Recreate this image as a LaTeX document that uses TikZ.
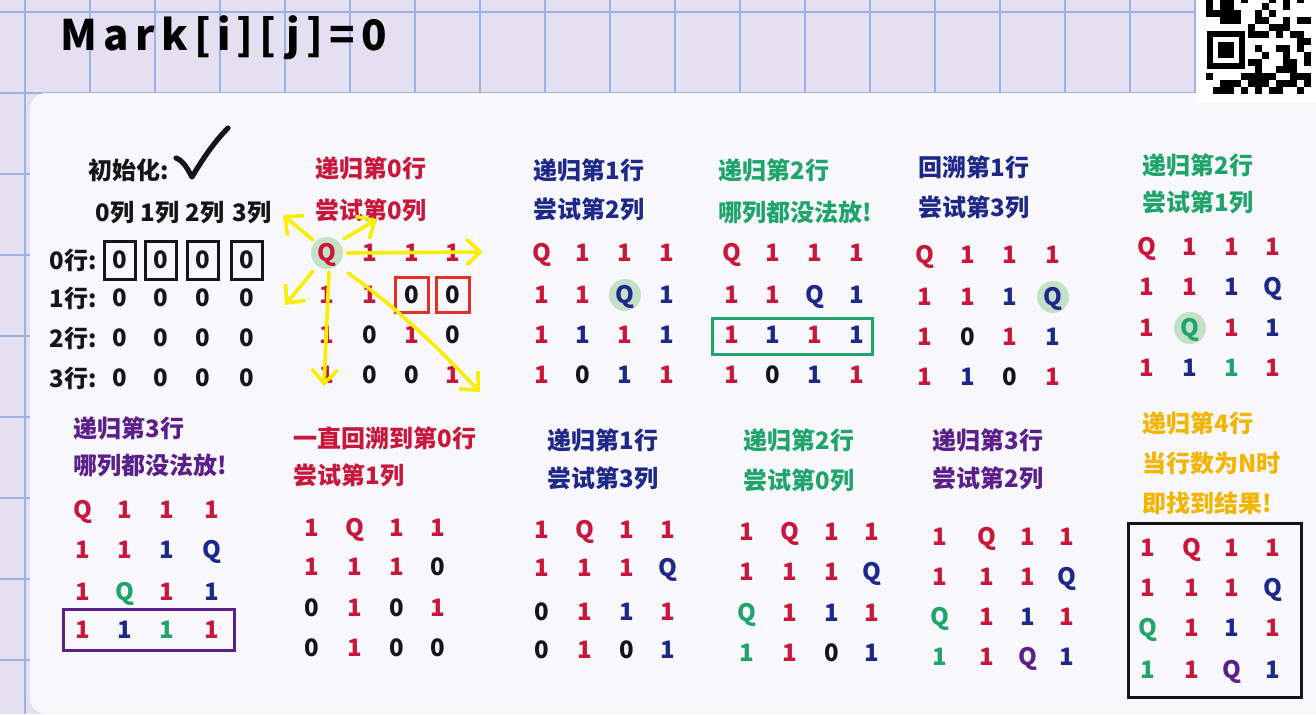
\documentclass[tikz,border=0pt]{standalone}
\usepackage{fontspec}
\setmainfont{Noto Sans CJK SC}
\usetikzlibrary{arrows.meta,backgrounds,fit}
\definecolor{cR}{HTML}{C8173A}
\definecolor{cB}{HTML}{1E2888}
\definecolor{cG}{HTML}{1FA56B}
\definecolor{cP}{HTML}{5B1F8A}
\definecolor{cK}{HTML}{151515}
\definecolor{cY}{HTML}{F2B600}
\definecolor{cBox}{HTML}{E0302A}
\definecolor{paper}{HTML}{E4E0F2}
\definecolor{gridc}{HTML}{9DB2E3}
\definecolor{panelc}{HTML}{F7F7FC}
\definecolor{hl}{HTML}{C6DFC8}
\definecolor{arrowy}{HTML}{F7EE00}
\tikzset{
  cell/.style={font=\fontsize{12}{14}\selectfont\bfseries, inner sep=0pt, text height=8.6pt, text depth=0pt, anchor=center},
  ttl/.style={font=\fontsize{12}{14}\selectfont\bfseries, inner sep=0pt, anchor=west},
  lbl/.style={font=\fontsize{12}{14}\selectfont\bfseries, inner sep=0pt, anchor=center, text=cK},
  kbox/.style={draw=cK, line width=1.5pt, inner xsep=3.8pt, inner ysep=5pt},
  rbox/.style={draw=cBox, line width=1.5pt, inner xsep=4.6pt, inner ysep=4.2pt},
  rowbox/.style={line width=1.5pt},
  yarrow/.style={draw=arrowy, line width=1.8pt, line cap=round, -{Straight Barb[length=7pt,width=13pt,line width=1.8pt]}},
  hlq/.style={fill=hl, circle, minimum size=16pt, inner sep=0pt}
}
\newcommand\panelcells[4]{%
  \foreach \c/\r/\cc/\tx in {#4}{%
    \pgfmathsetmacro\xx{{#2}[\c]}%
    \pgfmathsetmacro\yy{{#3}[\r]}%
    \node[cell,text=\cc] (#1-\r-\c) at (\xx,\yy) {\tx};
  }}
\begin{document}
\begin{tikzpicture}[x=0.5pt,y=-0.5pt]
\useasboundingbox (0,0) rectangle (1316,714);
\begin{scope}[on background layer]
  \fill[paper] (0,0) rectangle (1316,714);
  \foreach \gx in {25,90,...,1320} \draw[gridc, line width=0.6pt] (\gx,0) -- (\gx,714);
  \foreach \gy in {12,93,...,714} \draw[gridc, line width=0.6pt] (0,\gy) -- (1316,\gy);
  \fill[panelc, rounded corners=8pt] (30,714) -- (30,93) -- (1330,93) -- (1330,714) -- cycle;
  \fill[white] (1196,-2) rectangle (1318,102);
\end{scope}

% QR code
\pgfmathsetseed{11}
\foreach \i in {0,...,14}{
  \foreach \j in {0,...,13}{
    \pgfmathrandominteger{\rr}{0}{1}
    \pgfmathtruncatemacro\infind{(\i<6)&&(\j>3)&&(\j<11) ? 1 : 0}
    \ifnum\infind=0 \ifnum\rr=1
      \fill[black] ({1206+7*\i},{-4+7*\j}) rectangle ++(7,7);
    \fi\fi
  }}
\fill[black] (1207,31) rectangle (1245,69);
\fill[white] (1213,37) rectangle (1239,63);
\fill[black] (1218,42) rectangle (1234,58);

% handwritten heading
\node[anchor=west, inner sep=0pt, font=\fontsize{21}{26}\selectfont\bfseries\addfontfeatures{LetterSpace=15}] (hdr) at (60,38) {Mark[i][j]=0};

% ---------- Panel 1: init ----------
\node[ttl,text=cK] (t1) at (88,170) {初始化:};
\draw[cK, line width=2.6pt, line cap=round, line join=round]
  (176,158) .. controls (184,161) and (188,170) .. (192,177)
  .. controls (202,160) and (214,142) .. (228,128);
\node[lbl] (h0) at (115,213) {0列};
\node[lbl] (h1) at (160,213) {1列};
\node[lbl] (h2) at (205,213) {2列};
\node[lbl] (h3) at (252,213) {3列};
\node[lbl] (r0) at (73,260) {0行:};
\node[lbl] (r1) at (73,298) {1行:};
\node[lbl] (r2) at (73,338) {2行:};
\node[lbl] (r3) at (73,378) {3行:};
\panelcells{p1}{120,161,203,247}{260,298,338,378}{%
0/0/cK/0,1/0/cK/0,2/0/cK/0,3/0/cK/0,
0/1/cK/0,1/1/cK/0,2/1/cK/0,3/1/cK/0,
0/2/cK/0,1/2/cK/0,2/2/cK/0,3/2/cK/0,
0/3/cK/0,1/3/cK/0,2/3/cK/0,3/3/cK/0}
\foreach \c in {0,...,3} \node[kbox, fit=(p1-0-\c)] (b1-\c) {};

% ---------- Panel 2 ----------
\node[ttl,text=cR] (t2a) at (315,168) {递归第0行};
\node[ttl,text=cR] (t2b) at (315,210) {尝试第0列};
\node[hlq] (q2) at (327,253) {};
\panelcells{p2}{327,370,412,453}{253,295,335,375}{%
0/0/cR/Q,1/0/cR/1,2/0/cR/1,3/0/cR/1,
0/1/cR/1,1/1/cR/1,2/1/cK/0,3/1/cK/0,
0/2/cR/1,1/2/cK/0,2/2/cR/1,3/2/cK/0,
0/3/cR/1,1/3/cK/0,2/3/cK/0,3/3/cR/1}
\node[rbox, fit=(p2-1-2)] (b2a) {};
\node[rbox, fit=(p2-1-3)] (b2b) {};
\coordinate (aUL) at (283,215);
\coordinate (aUR) at (377,219);
\coordinate (aR) at (483,252);
\coordinate (aDL) at (285,305);
\coordinate (aD) at (324,386);
\coordinate (aDR) at (480,392);
\draw[yarrow] (313,240) -- (aUL);
\draw[yarrow] (344,239) -- (aUR);
\draw[yarrow] (347,253) -- (aR);
\draw[yarrow] (313,271) -- (aDL);
\draw[yarrow] (329,272) -- (aD);
\draw[yarrow] (348,273) .. controls (400,310) and (440,350) .. (aDR);

% ---------- Panel 3 ----------
\node[ttl,text=cB] (t3a) at (533,170) {递归第1行};
\node[ttl,text=cB] (t3b) at (533,209) {尝试第2列};
\node[hlq] (q3) at (625,295) {};
\panelcells{p3}{542,583,625,667}{253,295,335,375}{%
0/0/cR/Q,1/0/cR/1,2/0/cR/1,3/0/cR/1,
0/1/cR/1,1/1/cR/1,2/1/cB/Q,3/1/cB/1,
0/2/cR/1,1/2/cB/1,2/2/cR/1,3/2/cB/1,
0/3/cR/1,1/3/cK/0,2/3/cB/1,3/3/cR/1}

% ---------- Panel 4 ----------
\node[ttl,text=cG] (t4a) at (718,170) {递归第2行};
\node[ttl,text=cG] (t4b) at (718,212) {哪列都没法放!};
\panelcells{p4}{732,773,815,857}{253,295,335,375}{%
0/0/cR/Q,1/0/cR/1,2/0/cR/1,3/0/cR/1,
0/1/cR/1,1/1/cR/1,2/1/cB/Q,3/1/cB/1,
0/2/cR/1,1/2/cB/1,2/2/cR/1,3/2/cB/1,
0/3/cR/1,1/3/cK/0,2/3/cB/1,3/3/cR/1}
\draw[rowbox, draw=cG] (712,318) rectangle (872,354);

% ---------- Panel 5 ----------
\node[ttl,text=cB] (t5a) at (918,167) {回溯第1行};
\node[ttl,text=cB] (t5b) at (918,207) {尝试第3列};
\node[hlq] (q5) at (1053,297) {};
\panelcells{p5}{925,968,1010,1053}{255,297,337,377}{%
0/0/cR/Q,1/0/cR/1,2/0/cR/1,3/0/cR/1,
0/1/cR/1,1/1/cR/1,2/1/cB/1,3/1/cB/Q,
0/2/cR/1,1/2/cK/0,2/2/cR/1,3/2/cB/1,
0/3/cR/1,1/3/cB/1,2/3/cK/0,3/3/cR/1}

% ---------- Panel 6 ----------
\node[ttl,text=cG] (t6a) at (1142,165) {递归第2行};
\node[ttl,text=cG] (t6b) at (1142,202) {尝试第1列};
\node[hlq] (q6) at (1190,328) {};
\panelcells{p6}{1147,1190,1232,1273}{247,287,328,368}{%
0/0/cR/Q,1/0/cR/1,2/0/cR/1,3/0/cR/1,
0/1/cR/1,1/1/cR/1,2/1/cB/1,3/1/cB/Q,
0/2/cR/1,1/2/cG/Q,2/2/cR/1,3/2/cB/1,
0/3/cR/1,1/3/cB/1,2/3/cG/1,3/3/cR/1}

% ---------- Panel 7 ----------
\node[ttl,text=cP] (t7a) at (73,428) {递归第3行};
\node[ttl,text=cP] (t7b) at (73,465) {哪列都没法放!};
\panelcells{p7}{83,125,167,212}{510,550,592,630}{%
0/0/cR/Q,1/0/cR/1,2/0/cR/1,3/0/cR/1,
0/1/cR/1,1/1/cR/1,2/1/cB/1,3/1/cB/Q,
0/2/cR/1,1/2/cG/Q,2/2/cR/1,3/2/cB/1,
0/3/cR/1,1/3/cB/1,2/3/cG/1,3/3/cR/1}
\draw[rowbox, draw=cP] (63,609) rectangle (234,650);

% ---------- Panel 8 ----------
\node[ttl,text=cR] (t8a) at (293,438) {一直回溯到第0行};
\node[ttl,text=cR] (t8b) at (293,475) {尝试第1列};
\panelcells{p8}{312,355,397,438}{528,567,608,648}{%
0/0/cR/1,1/0/cR/Q,2/0/cR/1,3/0/cR/1,
0/1/cR/1,1/1/cR/1,2/1/cR/1,3/1/cK/0,
0/2/cK/0,1/2/cR/1,2/2/cK/0,3/2/cR/1,
0/3/cK/0,1/3/cR/1,2/3/cK/0,3/3/cK/0}

% ---------- Panel 9 ----------
\node[ttl,text=cB] (t9a) at (547,440) {递归第1行};
\node[ttl,text=cB] (t9b) at (547,478) {尝试第3列};
\panelcells{p9}{542,585,627,668}{530,568,612,650}{%
0/0/cR/1,1/0/cR/Q,2/0/cR/1,3/0/cR/1,
0/1/cR/1,1/1/cR/1,2/1/cR/1,3/1/cB/Q,
0/2/cK/0,1/2/cR/1,2/2/cB/1,3/2/cR/1,
0/3/cK/0,1/3/cR/1,2/3/cK/0,3/3/cB/1}

% ---------- Panel 10 ----------
\node[ttl,text=cG] (t10a) at (743,440) {递归第2行};
\node[ttl,text=cG] (t10b) at (743,480) {尝试第0列};
\panelcells{p10}{747,790,832,872}{532,572,613,653}{%
0/0/cR/1,1/0/cR/Q,2/0/cR/1,3/0/cR/1,
0/1/cR/1,1/1/cR/1,2/1/cR/1,3/1/cB/Q,
0/2/cG/Q,1/2/cR/1,2/2/cB/1,3/2/cR/1,
0/3/cG/1,1/3/cR/1,2/3/cK/0,3/3/cB/1}

% ---------- Panel 11 ----------
\node[ttl,text=cP] (t11a) at (932,440) {递归第3行};
\node[ttl,text=cP] (t11b) at (932,478) {尝试第2列};
\panelcells{p11}{940,987,1028,1067}{537,577,617,657}{%
0/0/cR/1,1/0/cR/Q,2/0/cR/1,3/0/cR/1,
0/1/cR/1,1/1/cR/1,2/1/cR/1,3/1/cB/Q,
0/2/cG/Q,1/2/cR/1,2/2/cB/1,3/2/cR/1,
0/3/cG/1,1/3/cR/1,2/3/cP/Q,3/3/cB/1}

% ---------- Panel 12 ----------
\node[ttl,text=cY] (t12a) at (1142,423) {递归第4行};
\node[ttl,text=cY] (t12b) at (1142,463) {当行数为N时};
\node[ttl,text=cY] (t12c) at (1142,503) {即找到结果!};
\panelcells{p12}{1148,1192,1232,1273}{548,588,628,670}{%
0/0/cR/1,1/0/cR/Q,2/0/cR/1,3/0/cR/1,
0/1/cR/1,1/1/cR/1,2/1/cR/1,3/1/cB/Q,
0/2/cG/Q,1/2/cR/1,2/2/cB/1,3/2/cR/1,
0/3/cG/1,1/3/cR/1,2/3/cP/Q,3/3/cB/1}
\draw[rowbox, draw=cK] (1128,523) rectangle (1301,697);
\end{tikzpicture}
\end{document}
